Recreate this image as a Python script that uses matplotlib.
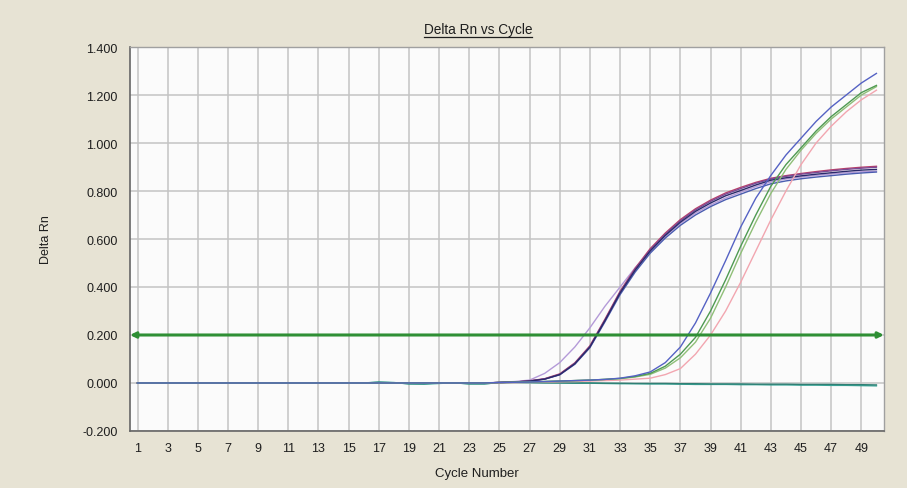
import matplotlib
matplotlib.use("Agg")
import matplotlib.pyplot as plt
from matplotlib.lines import Line2D

plt.rcParams['font.family'] = ['Liberation Sans', 'DejaVu Sans']

cycles = list(range(1, 51))

# Early-group curves (values for cycles 25..50, zero before)
early_dark = [0.0]*24 + [0.002, 0.004, 0.008, 0.016, 0.035, 0.080, 0.150, 0.260, 0.375, 0.470,
                         0.550, 0.615, 0.670, 0.715, 0.750, 0.780, 0.802, 0.825, 0.845, 0.855,
                         0.863, 0.870, 0.876, 0.882, 0.887, 0.890]
early_purple = [0.0]*24 + [0.002, 0.004, 0.008, 0.017, 0.036, 0.082, 0.152, 0.262, 0.378, 0.474,
                           0.555, 0.620, 0.676, 0.721, 0.757, 0.787, 0.810, 0.832, 0.850, 0.861,
                           0.870, 0.877, 0.884, 0.890, 0.895, 0.899]
early_red = [0.0]*24 + [0.002, 0.004, 0.009, 0.018, 0.038, 0.084, 0.155, 0.266, 0.382, 0.478,
                        0.560, 0.625, 0.681, 0.726, 0.762, 0.792, 0.815, 0.836, 0.853, 0.864,
                        0.873, 0.881, 0.888, 0.894, 0.899, 0.903]
early_blue = [0.0]*24 + [0.002, 0.004, 0.008, 0.016, 0.034, 0.078, 0.147, 0.255, 0.368, 0.462,
                         0.541, 0.604, 0.657, 0.700, 0.735, 0.764, 0.787, 0.810, 0.830, 0.842,
                         0.851, 0.858, 0.864, 0.870, 0.875, 0.879]
early_light = [0.0]*24 + [0.003, 0.006, 0.012, 0.040, 0.085, 0.150, 0.230, 0.320, 0.400, 0.480,
                          0.550, 0.612, 0.665, 0.708, 0.742, 0.771, 0.795, 0.818, 0.838, 0.850,
                          0.858, 0.865, 0.871, 0.876, 0.880, 0.883]

# Late-group curves (values for cycles 25..50)
late_blue = [0.0]*24 + [0.002, 0.003, 0.004, 0.006, 0.008, 0.010, 0.012, 0.015, 0.020, 0.030,
                        0.046, 0.085, 0.150, 0.250, 0.375, 0.510, 0.650, 0.770, 0.865, 0.950,
                        1.020, 1.090, 1.150, 1.200, 1.250, 1.290]
late_green = [0.0]*24 + [0.002, 0.003, 0.004, 0.006, 0.008, 0.010, 0.012, 0.015, 0.019, 0.027,
                         0.040, 0.070, 0.120, 0.190, 0.300, 0.430, 0.570, 0.700, 0.820, 0.910,
                         0.980, 1.050, 1.110, 1.160, 1.210, 1.240]
late_olive = [0.0]*24 + [0.002, 0.003, 0.004, 0.006, 0.008, 0.010, 0.012, 0.015, 0.018, 0.025,
                         0.036, 0.062, 0.105, 0.170, 0.270, 0.400, 0.540, 0.670, 0.790, 0.890,
                         0.970, 1.040, 1.100, 1.150, 1.200, 1.235]
late_pink = [0.0]*24 + [0.001, 0.002, 0.003, 0.004, 0.005, 0.006, 0.008, 0.010, 0.012, 0.016,
                        0.020, 0.035, 0.060, 0.120, 0.200, 0.300, 0.420, 0.550, 0.680, 0.800,
                        0.910, 1.000, 1.070, 1.130, 1.180, 1.220]

# Negative controls (flat)
neg_teal = [0.0]*16 + [0.004, 0.002, -0.004, -0.005, -0.002, 0.001, -0.004, -0.004, 0.002, 0.003,
                       0.002, 0.001, 0.0, -0.001, -0.001, -0.002, -0.003, -0.003, -0.004, -0.004,
                       -0.005, -0.006, -0.006, -0.006, -0.007, -0.007, -0.008, -0.008, -0.009,
                       -0.009, -0.010, -0.010, -0.011, -0.012]
neg_dark = [0.0]*16 + [0.003, 0.001, -0.003, -0.003, 0.000, 0.000, -0.003, -0.003, 0.001, 0.002,
                       0.002, 0.001, 0.001, 0.000, 0.000, -0.001, -0.001, -0.002, -0.002, -0.002,
                       -0.003, -0.003, -0.004, -0.004, -0.004, -0.005, -0.005, -0.005, -0.006,
                       -0.006, -0.006, -0.007, -0.007, -0.008]

series = [
    (neg_teal, "#3aa89a"),
    (neg_dark, "#2f7f74"),
    (early_light, "#b49ad8"),
    (early_blue, "#4a5cb0"),
    (early_red, "#b8406a"),
    (early_purple, "#7a4a95"),
    (early_dark, "#2a2a6a"),
    (late_pink, "#f2a6b0"),
    (late_olive, "#8fbf78"),
    (late_green, "#4f9a52"),
    (late_blue, "#5562c4"),
]

threshold = 0.2
x_ticks = list(range(1, 50, 2))
y_ticks = [-0.2, 0.0, 0.2, 0.4, 0.6, 0.8, 1.0, 1.2, 1.4]

fig = plt.figure(figsize=(9.07, 4.89), dpi=100, facecolor="#e7e3d4")
ax = fig.add_axes([0.1433, 0.1166, 0.8313, 0.7852])
ax.set_facecolor("#fbfbfb")

for v in x_ticks:
    ax.axvline(v, color="#c4c4c4", lw=1.1, zorder=1)
for v in y_ticks:
    ax.axhline(v, color="#c4c4c4", lw=1.1, zorder=1)

for vals, col in series:
    ax.plot(cycles, vals, color=col, lw=1.0, zorder=3)

ax.annotate("", xy=(50.5, threshold), xytext=(0.5, threshold),
            arrowprops=dict(arrowstyle="<|-|>", color="#2f8f35", lw=2.2,
                            mutation_scale=8, shrinkA=0, shrinkB=0), zorder=4)

ax.set_xlim(0.5, 50.5)
ax.set_ylim(-0.2, 1.4)
ax.set_xticks(x_ticks)
ax.set_xticklabels([str(v) for v in x_ticks])
ax.set_yticks(y_ticks)
ax.set_yticklabels([f"{v:.3f}" for v in y_ticks])
ax.tick_params(axis="both", length=0, labelsize=9, colors="#1e1e1e")
ax.tick_params(axis="x", pad=8)
ax.tick_params(axis="y", pad=9)

for side in ["left", "bottom"]:
    ax.spines[side].set_color("#666666")
    ax.spines[side].set_linewidth(1.2)
for side in ["top", "right"]:
    ax.spines[side].set_color("#a0a0a0")
    ax.spines[side].set_linewidth(1.0)

ax.set_xlabel("Cycle Number", fontsize=9.5, color="#1e1e1e")
ax.xaxis.set_label_coords(0.46, -0.095)
ax.set_ylabel("Delta Rn", fontsize=9, color="#1e1e1e")
ax.yaxis.set_label_coords(-0.103, 0.5)

title = fig.text(0.527, 0.931, "Delta Rn vs Cycle", ha="center", va="baseline",
                 fontsize=9.8, color="#1e1e1e")
fig.canvas.draw()
bb = title.get_window_extent(renderer=fig.canvas.get_renderer())
W, H = fig.bbox.width, fig.bbox.height
yline = (bb.y0 - 1.0) / H
fig.add_artist(Line2D([bb.x0 / W, bb.x1 / W], [yline, yline], color="#1e1e1e", lw=0.9))

fig.savefig("out.png", dpi=100, facecolor=fig.get_facecolor())
